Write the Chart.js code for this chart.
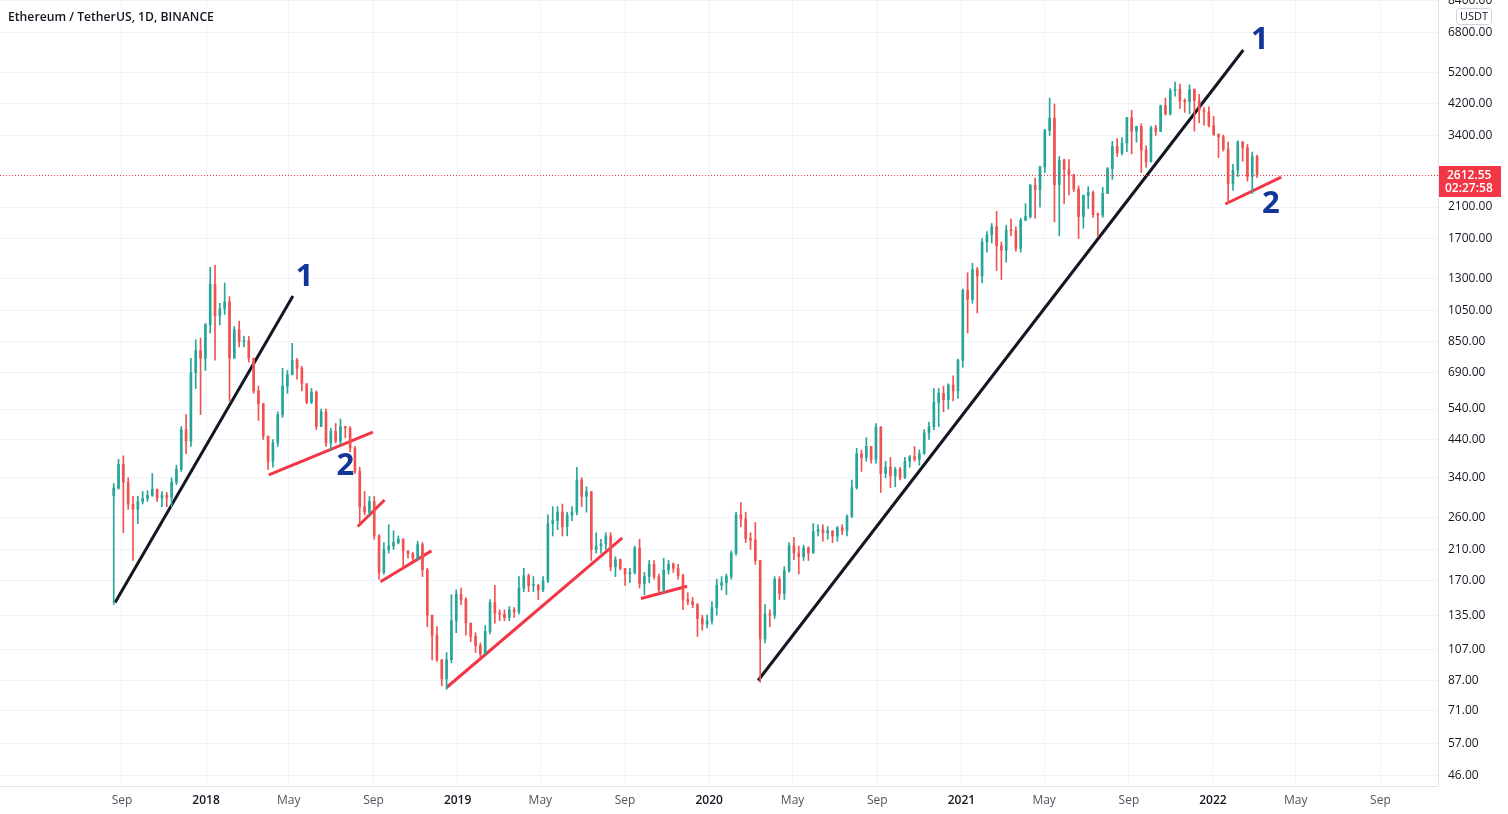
<!DOCTYPE html>
<html>
<head>
<meta charset="utf-8">
<script src="https://cdn.jsdelivr.net/npm/chart.js@4.4.1/dist/chart.umd.min.js"></script>
<style>
  html, body { margin: 0; padding: 0; background: #ffffff; }
  #wrap { position: relative; width: 1508px; height: 814px; }
  #title { position: absolute; left: 8px; top: 8px; font: 600 12.2px "Open Sans", sans-serif; color: #131722; }
</style>
</head>
<body>
<div id="wrap">
  <canvas id="eth" width="1508" height="814"></canvas>
  <div id="title">Ethereum / TetherUS, 1D, BINANCE</div>
</div>
<script>
// weekly candles, first week starts 2017-08-17
const firstWeek = '2017-08-17';
const firstOpen = 301;

const weekClose = [
    // 2017
    317, 372, 330, 285, 275, 290, 296, 302, 315, 297, 302, 298, 330, 360, 470, 435, 690, 800, 760, 950,
    // 2018
    1250, 1010, 1060, 1110, 760, 920, 850, 855, 760, 610, 560, 450, 380, 430, 520, 630, 680, 750, 710, 640,
    565, 605, 480, 530, 430, 465, 435, 480, 475, 415, 355, 280, 270, 290, 230, 180, 210, 215, 220, 225,
    208, 204, 198, 217, 183, 135, 118, 100, 88, 100, 130, 155,
    // 2019
    150, 128, 117, 110, 104, 121, 147, 137, 136, 133, 140, 138, 162, 176, 165, 165, 160, 170, 250, 255,
    270, 245, 265, 270, 335, 300, 310, 210, 215, 218, 230, 187, 196, 185, 178, 180, 212, 167, 175, 190,
    175, 160, 183, 190, 185, 176, 150, 148, 145, 132, 127, 130,
    // 2020
    142, 165, 168, 175, 205, 265, 258, 226, 224, 195, 115, 136, 135, 172, 156, 182, 215, 205, 200, 212,
    205, 237, 240, 235, 238, 230, 243, 238, 262, 318, 400, 390, 420, 385, 478, 350, 365, 345, 360, 341,
    380, 392, 385, 400, 460, 480, 565, 600, 575, 635, 610, 750, 1200,
    // 2021
    1130, 1380, 1320, 1660, 1740, 1840, 1620, 1570, 1800, 1790, 1590, 1920, 1970, 2430, 2360, 2750, 3520, 3820, 2440, 2880,
    2700, 2610, 2370, 1970, 2270, 2320, 2000, 1990, 2300, 2720, 3160, 3020, 3230, 3830, 3500, 3610, 3080, 2850, 3580, 3490,
    4150, 3930, 4600, 4640, 4290, 4270, 4630, 4300, 4020, 3980, 3630, 3420,
    // 2022
    3370, 3100, 2460, 2690, 3250, 3130, 2580, 2950, 2612.55
];

const weekHigh = [
    327, 385, 394, 340, 300, 300, 310, 312, 350, 315, 310, 308, 340, 370, 480, 520, 760, 860, 870, 960,
    1400, 1420, 1100, 1260, 1150, 940, 975, 880, 880, 760, 630, 560, 450, 440, 530, 710, 700, 840, 760, 720,
    620, 620, 610, 540, 540, 475, 490, 505, 480, 480, 420, 365, 310, 300, 300, 232, 220, 248, 238, 230,
    226, 208, 206, 222, 220, 185, 130, 125, 100, 105, 155, 160,
    162, 152, 125, 120, 112, 126, 150, 165, 140, 140, 143, 142, 175, 185, 178, 175, 166, 175, 265, 280,
    280, 285, 270, 280, 365, 340, 320, 310, 235, 225, 235, 235, 200, 197, 185, 185, 215, 225, 180, 195,
    195, 178, 198, 195, 192, 190, 178, 157, 152, 146, 135, 135,
    148, 172, 175, 178, 208, 270, 288, 270, 235, 252, 195, 145, 140, 175, 175, 187, 220, 228, 215, 216,
    214, 250, 248, 248, 245, 238, 245, 248, 265, 335, 415, 410, 445, 420, 490, 480, 380, 390, 365, 365,
    390, 395, 420, 410, 470, 495, 620, 620, 630, 640, 675, 755, 1210,
    1350, 1440, 1400, 1700, 1780, 1880, 2040, 1660, 1860, 1940, 1840, 1950, 2150, 2450, 2550, 2760, 3540, 4370, 4200, 2950,
    2900, 2890, 2620, 2420, 2280, 2410, 2340, 2020, 2400, 2740, 3270, 3330, 3350, 3840, 4030, 3620, 3680, 3170, 3620, 3640,
    4170, 4370, 4660, 4870, 4800, 4350, 4780, 4650, 4480, 4100, 4120, 3860,
    3440, 3410, 3250, 2800, 3280, 3270, 3200, 3040, 2980
];

const weekLow = [
    145, 315, 235, 275, 195, 250, 285, 290, 300, 290, 280, 280, 280, 325, 355, 400, 420, 620, 520, 700,
    900, 750, 950, 1020, 570, 760, 820, 820, 740, 600, 500, 440, 360, 365, 420, 510, 600, 680, 660, 610,
    560, 560, 470, 480, 420, 410, 430, 425, 445, 405, 350, 250, 265, 265, 225, 172, 178, 205, 210, 218,
    185, 198, 195, 196, 175, 125, 100, 99, 84, 82, 98, 120,
    145, 118, 113, 105, 102, 104, 119, 128, 130, 130, 130, 133, 136, 158, 158, 158, 150, 158, 168, 230,
    240, 230, 230, 255, 265, 280, 270, 195, 205, 205, 210, 182, 175, 183, 165, 168, 178, 162, 155, 168,
    172, 158, 157, 178, 180, 172, 140, 145, 142, 117, 122, 124,
    127, 135, 160, 155, 172, 202, 245, 220, 210, 190, 86, 112, 125, 132, 150, 150, 180, 196, 178, 195,
    195, 205, 230, 222, 225, 220, 222, 232, 230, 260, 315, 355, 380, 375, 375, 308, 340, 318, 320, 335,
    338, 365, 380, 370, 398, 440, 470, 480, 530, 540, 570, 580, 715,
    900, 1100, 1030, 1260, 1550, 1650, 1370, 1290, 1450, 1730, 1560, 1550, 1930, 1950, 1950, 2100, 2650, 3400, 1900, 1730,
    2150, 2280, 2330, 1700, 1820, 2080, 1960, 1720, 1960, 2300, 2530, 2950, 2980, 3050, 3000, 3250, 2650, 2740, 2840, 3400,
    3490, 3900, 3900, 4430, 4080, 3970, 3930, 3500, 3700, 3640, 3600, 3400,
    2930, 3060, 2160, 2350, 2580, 2860, 2500, 2300, 2560
];

// axes
const priceTicks = [46, 57, 71, 87, 107, 135, 170, 210, 260, 340, 440, 540, 690, 850, 1050, 1300, 1700, 2100, 3400, 4200, 5200, 6800, 8400];
const timeTickDates = ['2017-09-01', '2018-01-01', '2018-05-01', '2018-09-01', '2019-01-01', '2019-05-01', '2019-09-01', '2020-01-01',
    '2020-05-01', '2020-09-01', '2021-01-01', '2021-05-01', '2021-09-01', '2022-01-01', '2022-05-01', '2022-09-01'];
const timeTickLabels = ['Sep', '2018', 'May', 'Sep', '2019', 'May', 'Sep', '2020', 'May', 'Sep', '2021', 'May', 'Sep', '2022', 'May', 'Sep'];
const lastPrice = 2612.55;
const countdown = '02:27:58';

// drawn trend lines [start date, start price, end date, end price]
const blackLines = [
    ['2017-08-22', 147, '2018-05-07', 1155],
    ['2020-03-12', 87, '2022-02-14', 6040]
];
const redLines = [
    ['2018-04-02', 347, '2018-08-31', 462],
    ['2018-08-09', 245, '2018-09-17', 293],
    ['2018-09-11', 169, '2018-11-24', 208],
    ['2018-12-16', 83, '2019-08-28', 227],
    ['2019-09-24', 151, '2019-11-30', 164],
    ['2022-01-19', 2144, '2022-04-10', 2570]
];
const waveLabels = ['1', '2', '1', '2'];
const waveLabelDates = ['2018-05-24', '2018-07-22', '2022-03-10', '2022-03-26'];
const waveLabelPrices = [1312, 368, 6460, 2144];

function dayNum(s) {
    return (Date.parse(s) - Date.parse('2017-01-01')) / 86400000;
}

function isYear(c) {
    return !!(c && c.tick && /^\d/.test(String(c.tick.label)));
}

const upColor = '#26a69a';
const downColor = '#ef5350';

var bodies = [], wicks = [], candleColors = [];
var prevClose = firstOpen;
for (var i = 0; i < weekClose.length; i++) {
    var o = prevClose, c = weekClose[i];
    var x = dayNum(firstWeek) + i * 7 + 3;
    bodies.push({ x: x, y: [Math.min(o, c), Math.max(o, c)] });
    wicks.push({ x: x, y: [Math.min(weekLow[i], o, c), Math.max(weekHigh[i], o, c)] });
    candleColors.push(c >= o ? upColor : downColor);
    prevClose = c;
}

function lineSet(l, color) {
    return {
        type: 'line',
        data: [{ x: dayNum(l[0]), y: l[1] }, { x: dayNum(l[2]), y: l[3] }],
        borderColor: color,
        borderWidth: 3,
        pointRadius: 0,
        tension: 0
    };
}

var datasets = [
    { type: 'bar', data: wicks, backgroundColor: candleColors, barThickness: 1, grouped: false },
    { type: 'bar', data: bodies, backgroundColor: candleColors, barThickness: 2, minBarLength: 1, grouped: false }
];
blackLines.forEach(l => datasets.push(lineSet(l, '#131722')));
redLines.forEach(l => datasets.push(lineSet(l, '#f23645')));

// price line, price tag, USDT box and wave numbers
const overlay = {
    id: 'overlay',
    afterDatasetsDraw(chart) {
        var ctx = chart.ctx, area = chart.chartArea;
        var xs = chart.scales.x, ys = chart.scales.y;
        var py = Math.round(ys.getPixelForValue(lastPrice)) + 0.5;

        ctx.save();
        ctx.strokeStyle = '#f23645';
        ctx.lineWidth = 1;
        ctx.setLineDash([1, 2]);
        ctx.beginPath();
        ctx.moveTo(area.left, py);
        ctx.lineTo(area.right, py);
        ctx.stroke();
        ctx.setLineDash([]);

        ctx.fillStyle = '#12359a';
        ctx.font = 'bold 31px "Open Sans", sans-serif';
        ctx.textAlign = 'center';
        ctx.textBaseline = 'middle';
        waveLabels.forEach((t, k) => {
            ctx.fillText(t, xs.getPixelForValue(dayNum(waveLabelDates[k])), ys.getPixelForValue(waveLabelPrices[k]));
        });
        ctx.restore();
    },
    afterDraw(chart) {
        var ctx = chart.ctx, area = chart.chartArea;
        var ys = chart.scales.y;
        var py = Math.round(ys.getPixelForValue(lastPrice));

        ctx.save();
        ctx.fillStyle = '#f23645';
        ctx.fillRect(area.right + 1, py - 9, 62, 31);
        ctx.fillStyle = '#ffffff';
        ctx.font = '600 12px "Open Sans", sans-serif';
        ctx.textAlign = 'left';
        ctx.textBaseline = 'middle';
        ctx.fillText(lastPrice.toFixed(2), area.right + 9, py + 0.5);
        ctx.fillText(countdown, area.right + 7, py + 14);

        // currency box
        ctx.fillStyle = '#ffffff';
        ctx.strokeStyle = '#d1d4dc';
        ctx.lineWidth = 1;
        ctx.beginPath();
        ctx.roundRect(1456.5, 8.5, 35, 16, 3);
        ctx.fill();
        ctx.stroke();
        ctx.fillStyle = '#131722';
        ctx.font = '11px "Open Sans", sans-serif';
        ctx.textAlign = 'center';
        ctx.fillText('USDT', 1474, 17);
        ctx.restore();
    }
};

new Chart(document.getElementById('eth').getContext('2d'), {
    type: 'bar',
    data: { datasets: datasets },
    options: {
        responsive: false,
        animation: false,
        events: [],
        layout: { padding: 0 },
        plugins: { legend: { display: false }, tooltip: { enabled: false } },
        scales: {
            x: {
                type: 'linear',
                offset: false,
                min: 66,
                max: 2152.5,
                afterBuildTicks: s => { s.ticks = timeTickDates.map(d => ({ value: dayNum(d) })); },
                afterFit: s => { s.height = 28; s.paddingLeft = 0; s.paddingRight = 0; },
                grid: { color: '#f0f3fa', drawTicks: false, offset: false },
                border: { color: '#e0e3eb' },
                ticks: {
                    padding: 7,
                    maxRotation: 0,
                    autoSkip: false,
                    callback: (v, idx) => timeTickLabels[idx],
                    color: c => (isYear(c) ? '#131722' : '#50535e'),
                    font: c => ({ family: '"Open Sans", sans-serif', size: 12, weight: isYear(c) ? '600' : 'normal' })
                }
            },
            y: {
                type: 'logarithmic',
                position: 'right',
                min: 42.8,
                max: 8452,
                afterBuildTicks: s => { s.ticks = priceTicks.map(v => ({ value: v })); },
                afterFit: s => { s.width = 70; s.paddingTop = 0; s.paddingBottom = 0; },
                grid: { color: '#f0f3fa', drawTicks: false },
                border: { color: '#e0e3eb' },
                ticks: {
                    padding: 10,
                    autoSkip: false,
                    color: '#131722',
                    font: { family: '"Open Sans", sans-serif', size: 12 },
                    callback: v => Number(v).toFixed(2)
                }
            }
        }
    },
    plugins: [overlay]
});
</script>
</body>
</html>
